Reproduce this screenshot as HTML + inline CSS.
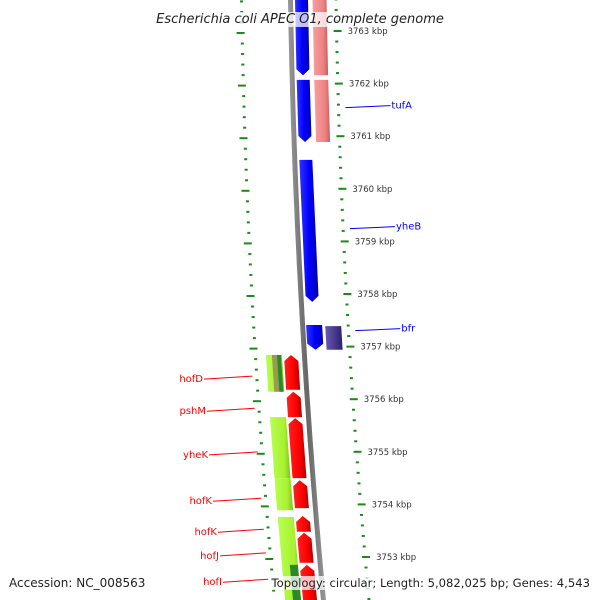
<!DOCTYPE html>
<html><head><meta charset="utf-8"><style>
html,body{margin:0;padding:0;background:#fff}
svg{display:block;font-family:"DejaVu Sans","Liberation Sans",sans-serif}
</style></head><body>
<svg id="map" width="600" height="600" viewBox="0 0 600 600">
<defs>
<linearGradient id="gb" x1="0" x2="1"><stop offset="0" stop-color="#3333ff"/><stop offset="0.5" stop-color="#0000ff"/><stop offset="1" stop-color="#0000aa"/></linearGradient>
<linearGradient id="gp" x1="0" x2="1"><stop offset="0" stop-color="#f7a0a0"/><stop offset="0.7" stop-color="#ee8080"/><stop offset="1" stop-color="#c06060"/></linearGradient>
<linearGradient id="gr" x1="0" x2="1"><stop offset="0" stop-color="#ff2020"/><stop offset="0.6" stop-color="#ff0000"/><stop offset="1" stop-color="#b00000"/></linearGradient>
<linearGradient id="gg" x1="0" x2="1"><stop offset="0" stop-color="#b8ff50"/><stop offset="0.7" stop-color="#a8f030"/><stop offset="1" stop-color="#80c020"/></linearGradient>
<linearGradient id="gv" x1="0" x2="1"><stop offset="0" stop-color="#6a5ab0"/><stop offset="1" stop-color="#2a2070"/></linearGradient>
<linearGradient id="gbk" x1="0" x2="1"><stop offset="0" stop-color="#999"/><stop offset="0.5" stop-color="#666"/><stop offset="1" stop-color="#999"/></linearGradient>
</defs>
<g id="tracks"></g>
</svg>
<script>
// genomic positions in kbp
const topKbp = 3763, topY = 31, pxPerKbp = 52.6;
const tickLabels = [3763,3762,3761,3760,3759,3758,3757,3756,3755,3754,3753];
const blueGenes = [[3763.7,3762.16],[3762.07,3760.89],[3760.55,3757.85],[3757.41,3756.94]];
const pinkGenes = [[3763.7,3762.16],[3762.07,3760.89]];
const purpleGenes = [[3757.39,3756.94]];
const redGenes = [[3756.84,3756.18],[3756.14,3755.66],[3755.64,3754.50],[3754.46,3753.93],[3753.78,3753.48],[3753.46,3752.89],[3752.85,3752.0]];
const greenGenes = [[3756.84,3756.14],[3755.66,3754.50],[3754.50,3753.89],[3753.76,3752.0]];
const blueLabels = ["tufA","yheB","bfr"];
const blueLabelKbp = [3761.6,3759.3,3757.36];
const redLabels = ["hofD","pshM","yheK","hofK","hofK","hofJ","hofI"];
const redLabelKbp = [3756.40,3755.79,3754.96,3754.08,3753.49,3753.04,3752.54];

const NS="http://www.w3.org/2000/svg";
const g=document.getElementById('tracks');
function yOf(k){return topY+(topKbp-k)*pxPerKbp;}
function off(y){return 0.0163*y+0.0000645*y*y;}
function X(x,y){return x+off(y);}
function mk(tag,attrs){const e=document.createElementNS(NS,tag);for(const k in attrs)e.setAttribute(k,attrs[k]);g.appendChild(e);return e;}
function poly(pts,fill){return mk('polygon',{points:pts.map(p=>X(p[0],p[1]).toFixed(1)+','+p[1].toFixed(1)).join(' '),fill:fill});}
function block(x0,x1,k0,k1,fill,arrow){
  const y0=yOf(k0),y1=yOf(k1),xm=(x0+x1)/2;const pts=[];
  if(arrow==='up'){const ya=Math.min(y0,y1),yb=Math.max(y0,y1);pts.push([xm,ya],[x1,ya+6],[x1,yb],[x0,yb],[x0,ya+6]);}
  else if(arrow==='down'){const ya=Math.min(y0,y1),yb=Math.max(y0,y1);pts.push([x0,ya],[x1,ya],[x1,yb-6],[xm,yb],[x0,yb-6]);}
  else pts.push([x0,y0],[x1,y0],[x1,y1],[x0,y1]);
  return poly(pts,fill);
}
// backbone
let bb=[];for(let y=-5;y<=605;y+=10)bb.push([288,y]);for(let y=605;y>=-5;y-=10)bb.push([293,y]);
let e=poly(bb,'url(#gbk)');


// rulers
for(let k=3763.6;k>=3752.0;k-=0.2){
  const kk=Math.round(k*10)/10;const y=yOf(kk);
  const major=Math.abs(kk-Math.round(kk))<0.01;
  let r=mk('rect',{x:X(major?333:334.5,y),y:y-1,width:major?8:3,height:2,fill:'#1a8a1a'});
  
  
  let l=mk('rect',{x:X(major?236:240,y+2),y:y+1,width:major?8:3,height:2,fill:'#1a8a1a'});
  
  
}
tickLabels.forEach(k=>{const y=yOf(k);
  let t=mk('text',{x:X(347,y),y:y+3,'font-size':'8.5',fill:'#333'});t.textContent=k+' kbp';
  
  });
// genes
pinkGenes.forEach(d=>{let b=block(312.5,326.5,d[0],d[1],'url(#gp)',null);
  
  });
purpleGenes.forEach(d=>{let b=block(313,329,d[0],d[1],'url(#gv)',null);
  
  });
blueGenes.forEach((d,i)=>{let b=block(i==3?294:295,i==3?310:308,d[0],d[1],'url(#gb)','down');
  
  });
redGenes.forEach(d=>{let b=block(270,284,d[0],d[1],'url(#gr)','up');
  
  });
greenGenes.forEach((d,i)=>{let b=block(252,268,d[0],d[1],'url(#gg)',null);
  
  });
let s1=block(258,263,greenGenes[0][0],greenGenes[0][1],'#9a9a50',null);


let s2=block(263,267,greenGenes[0][0],greenGenes[0][1],'#2a8a2a',null);


let s3=block(260,268,3752.85,3752.0,'#2a8a2a',null);


// labels
blueLabels.forEach((n,i)=>{const y=yOf(blueLabelKbp[i]);
  let ln=mk('line',{x1:X(343,y),y1:y+3,x2:X(388,y),y2:y+1,stroke:'#0000ff','stroke-width':1});
  
  
  let t=mk('text',{x:X(389,y),y:y+4,'font-size':'10',fill:'#0000ff'});t.textContent=n;
  
  });
const redTx=[203,206,208,212,217,219,222];
redLabels.forEach((n,i)=>{const y=yOf(redLabelKbp[i]);
  let t=mk('text',{x:redTx[i],y:y+4,'font-size':'10',fill:'#ff0000','text-anchor':'end'});t.textContent=n;
  
  
  let ln=mk('line',{x1:redTx[i]+1,y1:y+1,x2:X(237,y),y2:y-2,stroke:'#ff0000','stroke-width':1});
  
  });
// title & footer
function label(txt,x,y,anchor,style,size,name,bg){
  const t=mk('text',{x:x,y:y,'font-size':size,'text-anchor':anchor,fill:'#222','font-style':style});t.textContent=txt;
  
  
  if(bg){const b=t.getBBox();const r=document.createElementNS(NS,'rect');
    r.setAttribute('x',b.x-2);r.setAttribute('y',b.y);r.setAttribute('width',b.width+4);r.setAttribute('height',b.height);
    r.setAttribute('fill','rgba(255,255,255,0.75)');
    
    
    g.insertBefore(r,t);}
}
label('Escherichia coli APEC O1, complete genome',300,23,'middle','italic','13','chart-title',true);
label('Accession: NC_008563',9,587,'start','normal','12','accession-text',false);
label('Topology: circular; Length: 5,082,025 bp; Genes: 4,543',590,587,'end','normal','11.6','topology-text',true);
</script>
</body></html>
